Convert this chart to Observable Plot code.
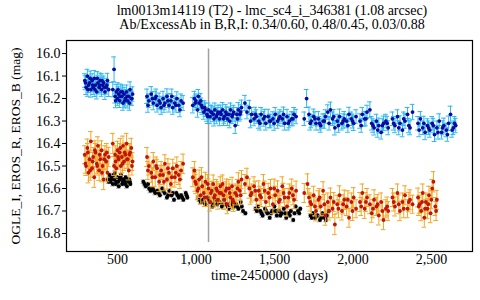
<!DOCTYPE html>
<html><head><meta charset="utf-8">
<script src="https://cdn.jsdelivr.net/npm/d3@7"></script>
<script src="https://cdn.jsdelivr.net/npm/@observablehq/plot@0.6"></script>
<style>
body{margin:0;background:#fff;width:480px;height:300px;overflow:hidden;font-family:"Liberation Serif","Times New Roman",serif;}
#title{height:36px;text-align:center;font-size:14px;line-height:14px;padding-left:64px;box-sizing:border-box;padding-top:4px;color:#000;}
</style></head><body>
<div id="title"><div>lm0013m14119 (T2) - lmc_sc4_i_346381 (1.08 arcsec)</div><div>Ab/ExcessAb in B,R,I: 0.34/0.60, 0.48/0.45, 0.03/0.88</div></div>
<div id="chart"></div>
<script>
// EROS_B: [day, mag, err]
const erosB = [
[292,16.12,.030],[300,16.15,.032],[308,16.10,.030],[315,16.14,.033],[322,16.13,.030],[330,16.16,.034],[338,16.12,.030],[345,16.15,.032],[352,16.11,.035],[360,16.14,.030],[368,16.17,.032],[375,16.13,.031],[383,16.15,.030],[390,16.12,.033],[398,16.16,.030],[405,16.14,.032],[412,16.13,.030],[420,16.17,.034],[428,16.15,.030],[436,16.12,.032],[444,16.16,.031],
[296,16.13,.031],[311,16.16,.030],[326,16.11,.032],[341,16.14,.030],[356,16.16,.031],[371,16.11,.030],[386,16.14,.032],[401,16.12,.030],[416,16.15,.031],[432,16.14,.030],
[478,16.07,.055],
[470,16.16,.032],[485,16.19,.030],[492,16.17,.033],[500,16.20,.030],[507,16.18,.032],[514,16.21,.030],[521,16.17,.034],[528,16.19,.030],[535,16.22,.032],[542,16.18,.030],[550,16.20,.033],[558,16.17,.030],[565,16.21,.032],[572,16.19,.030],[580,16.16,.034],[588,16.20,.030],[596,16.18,.032],
[488,16.21,.031],[503,16.16,.030],[518,16.19,.032],[532,16.17,.030],[546,16.21,.031],[561,16.19,.030],[576,16.22,.032],[592,16.20,.030],
[688,16.19,.032],[700,16.21,.030],[715,16.18,.033],[728,16.22,.030],[740,16.20,.032],[752,16.23,.030],[765,16.21,.034],[778,16.24,.030],[790,16.20,.032],[802,16.22,.030],[815,16.19,.033],[828,16.23,.030],[840,16.21,.032],[852,16.24,.030],[865,16.22,.031],[878,16.20,.030],[890,16.23,.032],[905,16.21,.030],[918,16.22,.033],
[694,16.23,.031],[722,16.20,.030],[746,16.19,.032],[771,16.22,.030],[796,16.23,.031],[821,16.21,.030],[846,16.19,.032],[872,16.23,.030],[898,16.25,.031],
[980,16.23,.034],[990,16.20,.032],[1000,16.21,.030],[1010,16.25,.033],[1020,16.22,.030],[1030,16.21,.032],[1040,16.24,.030],[1050,16.26,.032],[1060,16.25,.030],[1070,16.27,.031],[1080,16.25,.030],[1090,16.28,.032],[1100,16.26,.030],[1110,16.27,.033],[1120,16.25,.030],[1130,16.28,.032],[1140,16.26,.030],[1150,16.29,.031],
[995,16.22,.031],[1015,16.19,.030],[1035,16.23,.032],[1055,16.24,.030],[1075,16.28,.031],[1095,16.26,.030],[1115,16.29,.032],[1135,16.27,.030],[1155,16.26,.031],
[1160,16.27,.030],[1170,16.25,.032],[1180,16.28,.030],[1190,16.26,.033],[1200,16.29,.030],[1210,16.27,.032],[1220,16.25,.030],[1230,16.28,.031],[1240,16.26,.030],[1250,16.32,.035],[1260,16.27,.030],[1270,16.25,.032],[1280,16.27,.030],[1290,16.24,.033],
[1175,16.29,.030],[1195,16.27,.032],[1215,16.30,.030],[1235,16.27,.031],[1265,16.29,.030],[1285,16.26,.032],
[1312,16.22,.034],[1325,16.26,.030],[1340,16.24,.032],[1355,16.27,.030],[1370,16.29,.031],[1385,16.28,.030],[1400,16.30,.032],[1415,16.27,.030],[1430,16.29,.033],[1445,16.31,.030],[1460,16.28,.032],[1475,16.30,.030],[1490,16.29,.031],[1505,16.27,.030],[1520,16.30,.032],[1535,16.28,.030],[1550,16.29,.033],[1565,16.31,.030],[1580,16.28,.032],[1595,16.30,.030],[1610,16.29,.031],[1625,16.27,.030],[1638,16.28,.032],
[1348,16.30,.030],[1378,16.27,.031],[1408,16.31,.030],[1438,16.28,.032],[1468,16.30,.030],[1498,16.31,.031],[1528,16.29,.030],[1558,16.27,.032],[1588,16.31,.030],[1618,16.29,.031],
[1690,16.29,.030],[1705,16.20,.040],[1720,16.27,.032],[1735,16.30,.030],[1750,16.28,.033],[1765,16.31,.030],[1780,16.29,.032],[1795,16.32,.030],[1810,16.30,.031],[1825,16.28,.030],[1840,16.26,.032],[1857,16.25,.034],[1870,16.29,.030],[1885,16.33,.032],[1900,16.30,.030],[1915,16.28,.033],[1930,16.31,.030],[1945,16.29,.032],[1960,16.30,.030],[1975,16.27,.031],[1990,16.29,.030],[2005,16.31,.032],[2020,16.28,.030],
[1728,16.31,.030],[1758,16.29,.031],[1788,16.31,.030],[1818,16.30,.032],[1848,16.31,.030],[1878,16.28,.031],[1908,16.32,.030],[1938,16.30,.032],[1968,16.32,.030],[1998,16.30,.031],
[2045,16.30,.032],[2060,16.27,.030],[2075,16.29,.033],[2090,16.26,.030],[2108,16.25,.035],[2120,16.31,.030],[2135,16.33,.032],[2150,16.30,.030],[2165,16.32,.033],[2180,16.35,.030],[2195,16.31,.032],[2210,16.30,.030],[2225,16.33,.031],
[2053,16.32,.030],[2083,16.29,.031],[2128,16.32,.030],[2158,16.34,.032],[2188,16.32,.030],[2218,16.31,.031],
[2252,16.29,.030],[2268,16.32,.032],[2284,16.28,.030],[2300,16.31,.033],[2316,16.34,.030],[2332,16.30,.032],[2348,16.27,.030],[2364,16.33,.031],[2380,16.26,.034],
[2260,16.31,.030],[2292,16.33,.031],[2324,16.29,.030],[2356,16.32,.032],
[2415,16.31,.030],[2430,16.29,.032],[2445,16.33,.030],[2460,16.35,.033],[2475,16.32,.030],[2490,16.34,.032],[2505,16.31,.030],[2520,16.36,.031],[2535,16.33,.030],[2550,16.30,.032],[2565,16.35,.030],[2580,16.32,.033],[2595,16.34,.030],[2610,16.31,.032],[2622,16.27,.036],[2640,16.33,.030],[2655,16.32,.032],
[2422,16.34,.030],[2452,16.31,.031],[2482,16.33,.030],[2512,16.32,.032],[2542,16.35,.030],[2572,16.33,.031],[2602,16.36,.030],[2632,16.34,.032],[2648,16.31,.030]
];
// EROS_R: [day, mag, err]
const erosR = [
[292,16.45,.040],[300,16.50,.042],[308,16.42,.040],[315,16.53,.045],[322,16.47,.040],[330,16.39,.043],[338,16.51,.040],[345,16.46,.042],[352,16.55,.045],[360,16.44,.040],[368,16.49,.042],[375,16.41,.040],[383,16.52,.044],[390,16.47,.040],[398,16.43,.042],[405,16.50,.040],[412,16.56,.045],[420,16.45,.040],[428,16.48,.042],[436,16.53,.040],[444,16.46,.043],
[296,16.49,.042],[311,16.44,.040],[326,16.52,.043],[341,16.48,.040],[356,16.43,.042],[371,16.50,.040],[386,16.45,.044],[401,16.53,.040],[416,16.47,.042],[432,16.44,.040],
[478,16.50,.042],
[470,16.40,.045],[485,16.45,.040],[492,16.51,.042],[500,16.43,.040],[507,16.47,.044],[514,16.44,.040],[521,16.50,.042],[528,16.46,.040],[535,16.41,.043],[542,16.48,.040],[550,16.45,.042],[558,16.40,.045],[565,16.47,.040],[572,16.52,.042],[580,16.44,.040],[588,16.42,.043],[596,16.48,.040],
[488,16.48,.042],[503,16.46,.040],[518,16.42,.043],[532,16.49,.040],[546,16.44,.042],[561,16.47,.040],[576,16.45,.043],[592,16.50,.040],
[688,16.46,.042],[700,16.50,.040],[715,16.53,.043],[728,16.48,.040],[740,16.55,.042],[752,16.51,.040],[765,16.57,.044],[778,16.52,.040],[790,16.54,.042],[802,16.49,.040],[815,16.56,.043],[828,16.53,.040],[840,16.58,.042],[852,16.51,.040],[865,16.55,.044],[878,16.50,.040],[890,16.54,.042],[905,16.52,.040],[918,16.49,.043],
[694,16.52,.040],[722,16.55,.042],[746,16.50,.040],[771,16.54,.043],[796,16.57,.040],[821,16.51,.042],[846,16.55,.040],[872,16.53,.043],[898,16.56,.040],
[980,16.55,.042],[990,16.52,.040],[1000,16.58,.043],[1010,16.61,.040],[1020,16.56,.042],[1030,16.63,.040],[1040,16.59,.044],[1050,16.62,.040],[1060,16.57,.042],[1070,16.64,.040],[1080,16.60,.043],[1090,16.66,.040],[1100,16.61,.042],[1110,16.58,.040],[1120,16.63,.044],[1130,16.60,.040],[1140,16.65,.042],[1150,16.62,.040],
[995,16.57,.042],[1015,16.60,.040],[1035,16.55,.043],[1055,16.64,.040],[1075,16.58,.042],[1095,16.62,.040],[1115,16.64,.043],[1135,16.61,.040],[1155,16.59,.042],
[1160,16.62,.042],[1170,16.58,.040],[1180,16.65,.043],[1190,16.61,.040],[1200,16.67,.042],[1210,16.60,.040],[1220,16.64,.044],[1230,16.59,.040],[1240,16.66,.042],[1250,16.62,.040],[1260,16.63,.043],[1270,16.57,.040],[1280,16.61,.042],[1290,16.56,.040],
[1175,16.63,.040],[1195,16.60,.042],[1215,16.62,.040],[1235,16.65,.043],[1265,16.60,.040],[1285,16.63,.042],
[1312,16.58,.042],[1325,16.55,.040],[1340,16.60,.043],[1355,16.62,.040],[1370,16.59,.042],[1385,16.65,.040],[1400,16.61,.044],[1415,16.64,.040],[1430,16.58,.042],[1445,16.66,.040],[1460,16.62,.043],[1475,16.60,.040],[1490,16.67,.042],[1505,16.63,.040],[1520,16.61,.044],[1535,16.65,.040],[1550,16.59,.042],[1565,16.64,.040],[1580,16.68,.043],[1595,16.62,.040],[1610,16.60,.042],[1625,16.65,.040],[1638,16.61,.043],
[1348,16.63,.040],[1378,16.61,.042],[1408,16.63,.040],[1438,16.61,.043],[1468,16.64,.040],[1498,16.60,.042],[1528,16.66,.040],[1558,16.62,.043],[1588,16.64,.040],[1618,16.63,.042],
[1690,16.62,.042],[1711,16.58,.045],[1720,16.64,.040],[1735,16.67,.042],[1750,16.63,.040],[1765,16.70,.044],[1780,16.65,.040],[1795,16.68,.042],[1810,16.61,.040],[1825,16.72,.043],[1840,16.66,.040],[1857,16.64,.042],[1870,16.69,.040],[1885,16.76,.045],[1900,16.67,.040],[1915,16.63,.042],[1930,16.70,.040],[1945,16.65,.043],[1960,16.68,.040],[1975,16.73,.042],[1990,16.66,.040],[2005,16.64,.044],[2020,16.69,.040],
[1728,16.66,.040],[1758,16.68,.042],[1788,16.64,.040],[1818,16.67,.043],[1848,16.70,.040],[1878,16.66,.042],[1908,16.69,.040],[1938,16.67,.043],[1968,16.65,.040],[1998,16.70,.042],
[2045,16.66,.042],[2060,16.62,.040],[2075,16.69,.043],[2090,16.64,.040],[2108,16.67,.042],[2120,16.71,.040],[2135,16.65,.044],[2150,16.68,.040],[2165,16.72,.042],[2180,16.66,.040],[2195,16.74,.043],[2210,16.69,.040],[2225,16.70,.042],
[2053,16.68,.040],[2083,16.66,.042],[2128,16.69,.040],[2158,16.67,.043],[2188,16.70,.040],[2218,16.68,.042],
[2252,16.64,.040],[2268,16.68,.042],[2284,16.62,.040],[2300,16.70,.043],[2316,16.66,.040],[2332,16.63,.042],[2348,16.69,.040],[2364,16.65,.044],[2380,16.67,.040],
[2260,16.66,.040],[2292,16.67,.042],[2324,16.69,.040],[2356,16.66,.043],
[2415,16.64,.042],[2425,16.67,.040],[2435,16.70,.043],[2445,16.62,.040],[2455,16.73,.042],[2465,16.66,.040],[2475,16.69,.044],[2485,16.63,.040],[2495,16.71,.042],[2505,16.60,.040],[2513,16.57,.045],[2525,16.68,.040],[2535,16.65,.042],
[2420,16.68,.040],[2440,16.66,.042],[2460,16.69,.040],[2480,16.67,.043],[2500,16.65,.040],[2530,16.70,.042]
];
// OGLE_I: [day, mag, err]
const ogleI = [
[440,16.56,.008],[448,16.54,.008],[455,16.57,.008],[462,16.55,.008],[470,16.58,.009],[478,16.56,.008],[485,16.53,.008],[492,16.57,.008],[500,16.55,.008],[508,16.59,.009],[515,16.56,.008],[522,16.54,.008],[530,16.58,.008],[538,16.56,.008],[545,16.57,.008],[552,16.55,.008],[560,16.59,.009],[568,16.57,.008],[575,16.56,.008],[582,16.58,.008],
[444,16.57,.008],[459,16.56,.008],[474,16.54,.008],[489,16.58,.008],[504,16.57,.008],[519,16.55,.008],[534,16.57,.008],[549,16.58,.008],[564,16.56,.008],[579,16.57,.008],
[665,16.57,.008],[680,16.59,.008],[695,16.58,.008],[710,16.61,.009],[725,16.60,.008],[740,16.62,.008],[755,16.61,.008],[770,16.63,.008],[785,16.60,.008],[800,16.62,.009],[815,16.64,.008],[830,16.61,.008],[845,16.63,.008],[860,16.65,.008],[875,16.62,.008],[890,16.64,.009],[905,16.63,.008],[920,16.65,.008],[935,16.62,.008],[945,16.64,.008],
[672,16.58,.008],[702,16.60,.008],[732,16.61,.008],[762,16.62,.008],[792,16.61,.008],[822,16.63,.008],[852,16.62,.008],[882,16.63,.008],[912,16.64,.008],[940,16.63,.008],
[1015,16.64,.008],[1030,16.66,.008],[1045,16.65,.008],[1060,16.67,.009],[1075,16.64,.008],[1090,16.66,.008],[1105,16.68,.008],[1120,16.65,.008],[1135,16.67,.009],[1150,16.66,.008],[1165,16.68,.008],[1180,16.65,.008],[1195,16.67,.008],[1210,16.69,.009],[1225,16.66,.008],[1240,16.68,.008],[1255,16.67,.008],[1270,16.69,.008],[1285,16.66,.009],[1300,16.70,.008],[1315,16.71,.008],
[1022,16.65,.008],[1052,16.66,.008],[1082,16.65,.008],[1112,16.67,.008],[1142,16.66,.008],[1172,16.67,.008],[1202,16.68,.008],[1232,16.67,.008],[1262,16.68,.008],[1292,16.68,.008],
[1380,16.69,.008],[1395,16.68,.008],[1410,16.70,.008],[1425,16.72,.009],[1440,16.69,.008],[1455,16.71,.008],[1470,16.73,.008],[1485,16.70,.008],[1500,16.68,.009],[1515,16.72,.008],[1530,16.70,.008],[1545,16.71,.008],[1560,16.69,.008],[1575,16.73,.009],[1590,16.71,.008],[1605,16.70,.008],[1620,16.74,.008],[1635,16.68,.008],[1650,16.70,.009],[1665,16.69,.008],
[1388,16.70,.008],[1418,16.71,.008],[1448,16.70,.008],[1478,16.71,.008],[1508,16.70,.008],[1538,16.72,.008],[1568,16.71,.008],[1598,16.72,.008],[1628,16.71,.008],[1658,16.71,.008],
[1730,16.72,.008],[1745,16.71,.008],[1760,16.73,.008],[1775,16.72,.009],[1790,16.74,.008],[1805,16.71,.008],[1820,16.73,.008],[1835,16.72,.009],[1845,16.70,.008],
[1738,16.73,.008],[1768,16.72,.008],[1798,16.73,.008],[1828,16.74,.008]
];
const xTicks = [500, 1000, 1500, 2000, 2500];
const yTicks = [16.0, 16.1, 16.2, 16.3, 16.4, 16.5, 16.6, 16.7, 16.8];
const xDomain = [175, 2762];
const yDomain = [15.942, 16.88];
const markerDay = 1080;
const markerSpan = [15.98, 16.84];
const capHalf = 15;
const xLabel = "time-2450000 (days)";
const yLabel = "OGLE_I, EROS_R, EROS_B (mag)";
const serif = '"Liberation Serif", "Times New Roman", serif';

function series(data, barColor, dotColor, r) {
  return [
    Plot.ruleX(data, {x: d => d[0], y1: d => d[1] - d[2], y2: d => d[1] + d[2], stroke: barColor, strokeWidth: 1}),
    Plot.ruleY(data, {y: d => d[1] - d[2], x1: d => d[0] - capHalf, x2: d => d[0] + capHalf, stroke: barColor, strokeWidth: 1}),
    Plot.ruleY(data, {y: d => d[1] + d[2], x1: d => d[0] - capHalf, x2: d => d[0] + capHalf, stroke: barColor, strokeWidth: 1}),
    Plot.dot(data, {x: d => d[0], y: d => d[1], r: r, fill: dotColor, stroke: "none"})
  ];
}

const fmtX = d3.format(",");
const fmtY = d3.format(".1f");
const chart = Plot.plot({
  width: 480, height: 264,
  marginTop: 4, marginBottom: 49, marginLeft: 66, marginRight: 8,
  style: 'font-size: 14px; background: #fff; color: #000; overflow: visible;',
  x: {domain: xDomain},
  y: {domain: yDomain, reverse: true},
  marks: [
    Plot.ruleX([markerDay], {y1: markerSpan[0], y2: markerSpan[1], stroke: "#a0a0a0", strokeWidth: 1.5}),
    ...series(ogleI, "#b0b0b0", "#000", 2),
    ...series(erosR, "#f5a623", "#c0150a", 1.9),
    ...series(erosB, "#2cb8f0", "#0a0aa0", 1.9),
    Plot.frame({stroke: "#000", strokeWidth: 1.2}),
    Plot.axisX({ticks: xTicks, tickFormat: d => fmtX(d), tickSize: 0, tickPadding: 3, label: null, fontSize: 14}),
    Plot.axisY({ticks: yTicks, tickFormat: d => fmtY(d), tickSize: 4, tickPadding: 2, label: null, fontSize: 14}),
    Plot.text([xLabel], {frameAnchor: "bottom", dy: 28, text: d => d, fontSize: 14, textAnchor: "middle"}),
    Plot.text([yLabel], {frameAnchor: "left", dx: -51, rotate: -90, text: d => d, fontSize: 13.5, textAnchor: "middle"})
  ]
});
chart.setAttribute("font-family", serif);
chart.style.fontFamily = serif;
chart.querySelectorAll("[font-family]").forEach(el => el.setAttribute("font-family", serif));
chart.querySelectorAll("g, text").forEach(el => { el.style.fontFamily = serif; });
document.getElementById("chart").appendChild(chart);
</script>
</body></html>
